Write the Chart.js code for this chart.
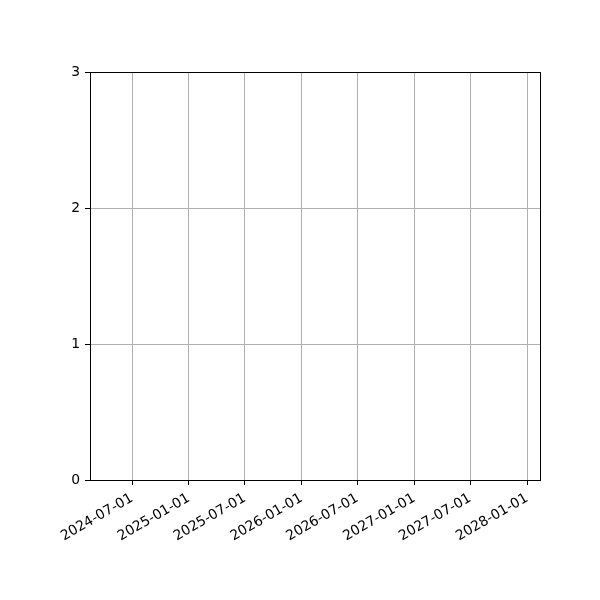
<!DOCTYPE html>
<html>
<head>
<meta charset="utf-8">
<script src="https://cdn.jsdelivr.net/npm/chart.js@4/dist/chart.umd.min.js"></script>
<style>
  html, body { margin: 0; padding: 0; background: #ffffff; }
  #wrap { width: 600px; height: 600px; }
</style>
</head>
<body>
<div id="wrap"><canvas id="c" width="600" height="600"></canvas></div>
<script>
// Data (the reference chart has no plotted series)
const seriesDates = [];
const seriesValues = [];
const xTickLabels = ['2024-07-01','2025-01-01','2025-07-01','2026-01-01','2026-07-01','2027-01-01','2027-07-01','2028-01-01'];
const yTickValues = [0, 1, 2, 3];
const xRange = ['2024-02-16', '2028-02-12'];

const toMs = s => Date.parse(s + 'T00:00:00Z');
const xTickValues = xTickLabels.map(toMs);

const framePlugin = {
  id: 'frame',
  afterDraw(chart) {
    const a = chart.chartArea, ctx = chart.ctx;
    ctx.save();
    ctx.strokeStyle = '#000000';
    ctx.lineWidth = 1;
    ctx.strokeRect(Math.round(a.left) + 0.5, Math.round(a.top) + 0.5,
                   Math.round(a.right - a.left), Math.round(a.bottom - a.top));
    ctx.restore();
  }
};

new Chart(document.getElementById('c'), {
  type: 'scatter',
  data: {
    datasets: [{
      data: seriesDates.map((d, i) => ({ x: toMs(d), y: seriesValues[i] })),
      borderColor: '#1f77b4',
      backgroundColor: '#1f77b4'
    }]
  },
  options: {
    responsive: false,
    animation: false,
    devicePixelRatio: 1,
    layout: { padding: { left: 0, right: 60, top: 72, bottom: 0 } },
    plugins: { legend: { display: false }, tooltip: { enabled: false } },
    scales: {
      x: {
        type: 'linear',
        min: toMs(xRange[0]),
        max: toMs(xRange[1]),
        afterBuildTicks(scale) { scale.ticks = xTickValues.map(v => ({ value: v })); },
        afterFit(scale) { scale.height = 120; },
        grid: { color: '#b0b0b0', lineWidth: 1, tickColor: '#000000', tickLength: 5, drawOnChartArea: true },
        border: { display: true, color: '#000000', width: 1 },
        ticks: {
          autoSkip: false,
          minRotation: 30,
          maxRotation: 30,
          padding: 5,
          color: '#000000',
          font: { family: 'DejaVu Sans', size: 13.9 },
          callback(v) {
            const i = xTickValues.indexOf(v);
            return i >= 0 ? xTickLabels[i] : '';
          }
        }
      },
      y: {
        type: 'linear',
        min: 0,
        max: 3,
        afterBuildTicks(scale) { scale.ticks = yTickValues.map(v => ({ value: v })); },
        afterFit(scale) { scale.width = 90; },
        grid: { color: '#b0b0b0', lineWidth: 1, tickColor: '#000000', tickLength: 5 },
        border: { display: true, color: '#000000', width: 1 },
        ticks: {
          padding: 5,
          color: '#000000',
          font: { family: 'DejaVu Sans', size: 13.9 },
          callback(v) { return String(v); }
        }
      }
    }
  },
  plugins: [framePlugin]
});
</script>
</body>
</html>
